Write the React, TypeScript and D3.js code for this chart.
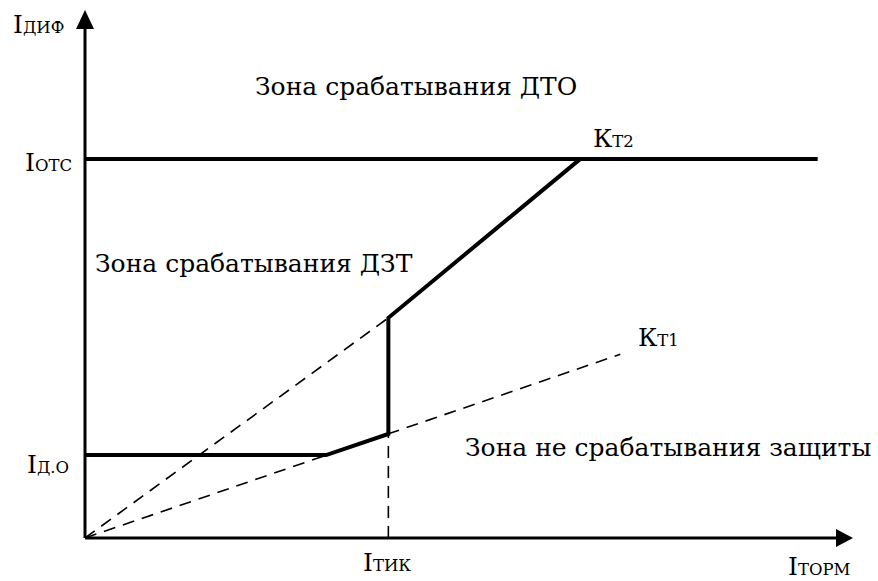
import React from "react";
import * as d3 from "d3";

const W = 878;
const H = 581;

// value ranges (relative units)
const xDomain = [0, 100];
const yDomain = [0, 100];

// characteristic levels
const levelNames = ["Iotc", "Id0"];
const levelValues = [71.8, 15.7];
const iotcEndX = 95.4;

// thick trip characteristic (ДЗТ)
const curveX = [0, 31.4, 39.5, 39.5, 64.5];
const curveY = [15.7, 15.7, 19.7, 41.7, 71.8];

// dashed construction lines
const dashStartX = [0, 0, 39.5];
const dashStartY = [0, 0, 0];
const dashEndX = [39.5, 69.7, 39.5];
const dashEndY = [41.7, 34.8, 19.7];

// labels
const zoneTexts = ["Зона срабатывания ДТО", "Зона срабатывания ДЗТ", "Зона не срабатывания защиты"];

export default function App() {
  const x = d3.scaleLinear().domain(xDomain).range([85, 853]);
  const y = d3.scaleLinear().domain(yDomain).range([538, 10]);
  const line = d3
    .line<[number, number]>()
    .x((d) => x(d[0]))
    .y((d) => y(d[1]));

  const curve = curveX.map((v, i) => [v, curveY[i]] as [number, number]);
  const iotc = levelValues[0];
  const fontStyle = { fontFamily: "'DejaVu Serif', serif" };
  const big = 25;
  const small = 16.5;

  const label = (px: number, py: number, main: string, sub: string, key: string) => (
    <text key={key} x={px} y={py} style={fontStyle} fontSize={big} fill="#000">
      {main}
      <tspan fontSize={small}>{sub}</tspan>
    </text>
  );

  return (
    <svg
      width={W}
      height={H}
      style={{ position: "absolute", left: 0, top: 0, background: "#fff" }}
    >
      {/* axes */}
      <line x1={x(0)} y1={y(0)} x2={x(0)} y2={y(0) - 510} stroke="#000" strokeWidth={3} />
      <line x1={x(0)} y1={y(0)} x2={x(100) - 14} y2={y(0)} stroke="#000" strokeWidth={3} />
      <path
        d={`M${x(0)},${y(100)} L${x(0) - 9},${y(100) + 19} L${x(0) + 9},${y(100) + 19} Z`}
        fill="#000"
      />
      <path
        d={`M${x(100)},${y(0)} L${x(100) - 17},${y(0) - 9} L${x(100) - 17},${y(0) + 9} Z`}
        fill="#000"
      />

      {/* dashed lines */}
      {dashStartX.map((sx, i) => (
        <path
          key={"d" + i}
          d={line([
            [sx, dashStartY[i]],
            [dashEndX[i], dashEndY[i]],
          ]) as string}
          stroke="#000"
          strokeWidth={1.6}
          strokeDasharray="12,8"
          fill="none"
        />
      ))}

      {/* Iotc horizontal */}
      <path
        d={line([
          [0, iotc],
          [iotcEndX, iotc],
        ]) as string}
        stroke="#000"
        strokeWidth={4}
        fill="none"
      />

      {/* trip curve */}
      <path
        d={line(curve) as string}
        stroke="#000"
        strokeWidth={4}
        strokeLinejoin="miter"
        fill="none"
      />

      {/* axis labels */}
      {label(13, 33, "I", "ДИФ", "l1")}
      {label(25, 171, "I", "ОТС", "l2")}
      {label(27, 473, "I", "Д.О", "l3")}
      {label(363, 571, "I", "ТИК", "l4")}
      {label(788, 575, "I", "ТОРМ", "l5")}
      {label(593, 147, "К", "Т2", "l6")}
      {label(638, 346, "К", "Т1", "l7")}

      {/* zone texts */}
      <text x={255} y={95} style={fontStyle} fontSize={big} fill="#000">
        {zoneTexts[0]}
      </text>
      <text x={95} y={272} style={fontStyle} fontSize={big} fill="#000">
        {zoneTexts[1]}
      </text>
      <text x={465} y={456} style={fontStyle} fontSize={big} fill="#000">
        {zoneTexts[2]}
      </text>
    </svg>
  );
}
